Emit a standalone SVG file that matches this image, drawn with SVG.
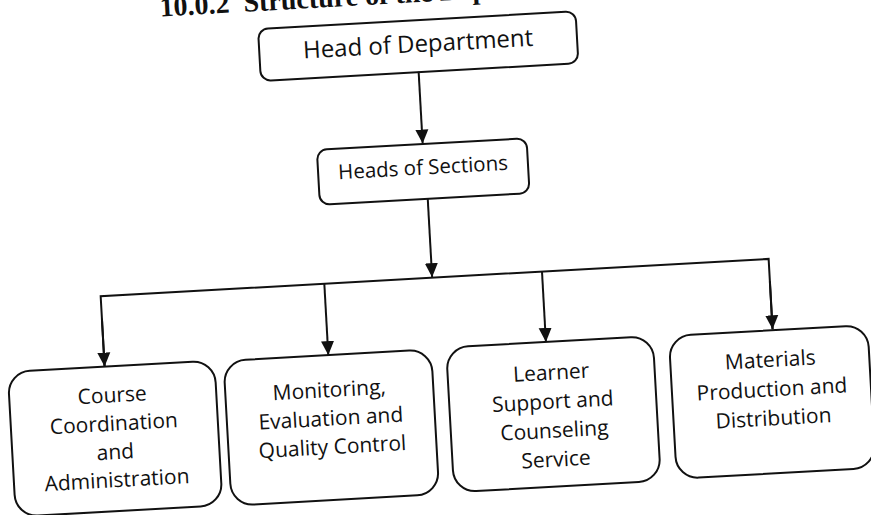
<svg xmlns="http://www.w3.org/2000/svg" width="871" height="515" viewBox="0 0 871 515">
<style>
  .box { fill: none; stroke: #111; stroke-width: 2; }
  .lbl { font-family: "Open Sans", "Noto Sans", "Liberation Sans", sans-serif; fill: #111; text-anchor: middle; }
  .top { font-size: 24px; }
  .mid { font-size: 20.5px; }
  .sub { font-size: 21px; }
  .title { font-family: "Liberation Serif", "Times New Roman", serif; font-weight: bold; font-size: 28px; fill: #111; }
  .conn { fill: none; stroke: #111; stroke-width: 2; }
</style>
<defs>
  <marker id="arrow" markerUnits="userSpaceOnUse" markerWidth="14" markerHeight="14" viewBox="0 0 14 14" refX="14" refY="7" orient="auto">
    <path d="M0,0.5 L14,7 L0,13.5 Z" fill="#111"/>
  </marker>
</defs>
<rect width="871" height="515" fill="#ffffff"/>
<g transform="rotate(-3.2 435 257)">
  <text class="title" x="174" y="1.5">10.0.2<tspan dx="14">Structure of the Department</tspan></text>

  <g id="connectors">
    <line class="conn" x1="429" y1="71" x2="429" y2="143" marker-end="url(#arrow)"/>
    <line class="conn" x1="431" y1="198" x2="431" y2="277" marker-end="url(#arrow)"/>
    <polyline class="conn" points="99,348 99,277.5 768,277.5 768,348"/>
    <line class="conn" x1="99" y1="300" x2="99" y2="348" marker-end="url(#arrow)"/>
    <line class="conn" x1="768" y1="300" x2="768" y2="348" marker-end="url(#arrow)"/>
    <line class="conn" x1="323" y1="277.5" x2="323" y2="349" marker-end="url(#arrow)"/>
    <line class="conn" x1="541" y1="277.5" x2="541" y2="348" marker-end="url(#arrow)"/>
  </g>

  <g id="head-of-department">
    <rect class="box" x="271" y="19.5" width="318" height="52" rx="10"/>
    <text class="lbl top" x="430" y="51.5">Head of Department</text>
  </g>

  <g id="heads-of-sections">
    <rect class="box" x="323" y="143.5" width="210" height="55" rx="10"/>
    <text class="lbl mid" x="428" y="174">Heads of Sections</text>
  </g>

  <g id="course-coordination">
    <rect class="box" x="2" y="348" width="207" height="145" rx="22"/>
    <text class="lbl sub" x="105" y="384">Course</text>
    <text class="lbl sub" x="105" y="412.5">Coordination</text>
    <text class="lbl sub" x="105" y="441">and</text>
    <text class="lbl sub" x="105" y="469">Administration</text>
  </g>

  <g id="monitoring-evaluation">
    <rect class="box" x="218" y="349" width="208" height="145" rx="22"/>
    <text class="lbl sub" x="322" y="391">Monitoring,</text>
    <text class="lbl sub" x="322" y="419.5">Evaluation and</text>
    <text class="lbl sub" x="322" y="448">Quality Control</text>
  </g>

  <g id="learner-support">
    <rect class="box" x="441" y="348" width="207" height="145" rx="22"/>
    <text class="lbl sub" x="544.5" y="386">Learner</text>
    <text class="lbl sub" x="544.5" y="415">Support and</text>
    <text class="lbl sub" x="544.5" y="444">Counseling</text>
    <text class="lbl sub" x="544.5" y="473">Service</text>
  </g>

  <g id="materials-production">
    <rect class="box" x="664" y="349" width="199" height="143" rx="22"/>
    <text class="lbl sub" x="764" y="385.5">Materials</text>
    <text class="lbl sub" x="764" y="415">Production and</text>
    <text class="lbl sub" x="764" y="444">Distribution</text>
  </g>
</g>
</svg>
